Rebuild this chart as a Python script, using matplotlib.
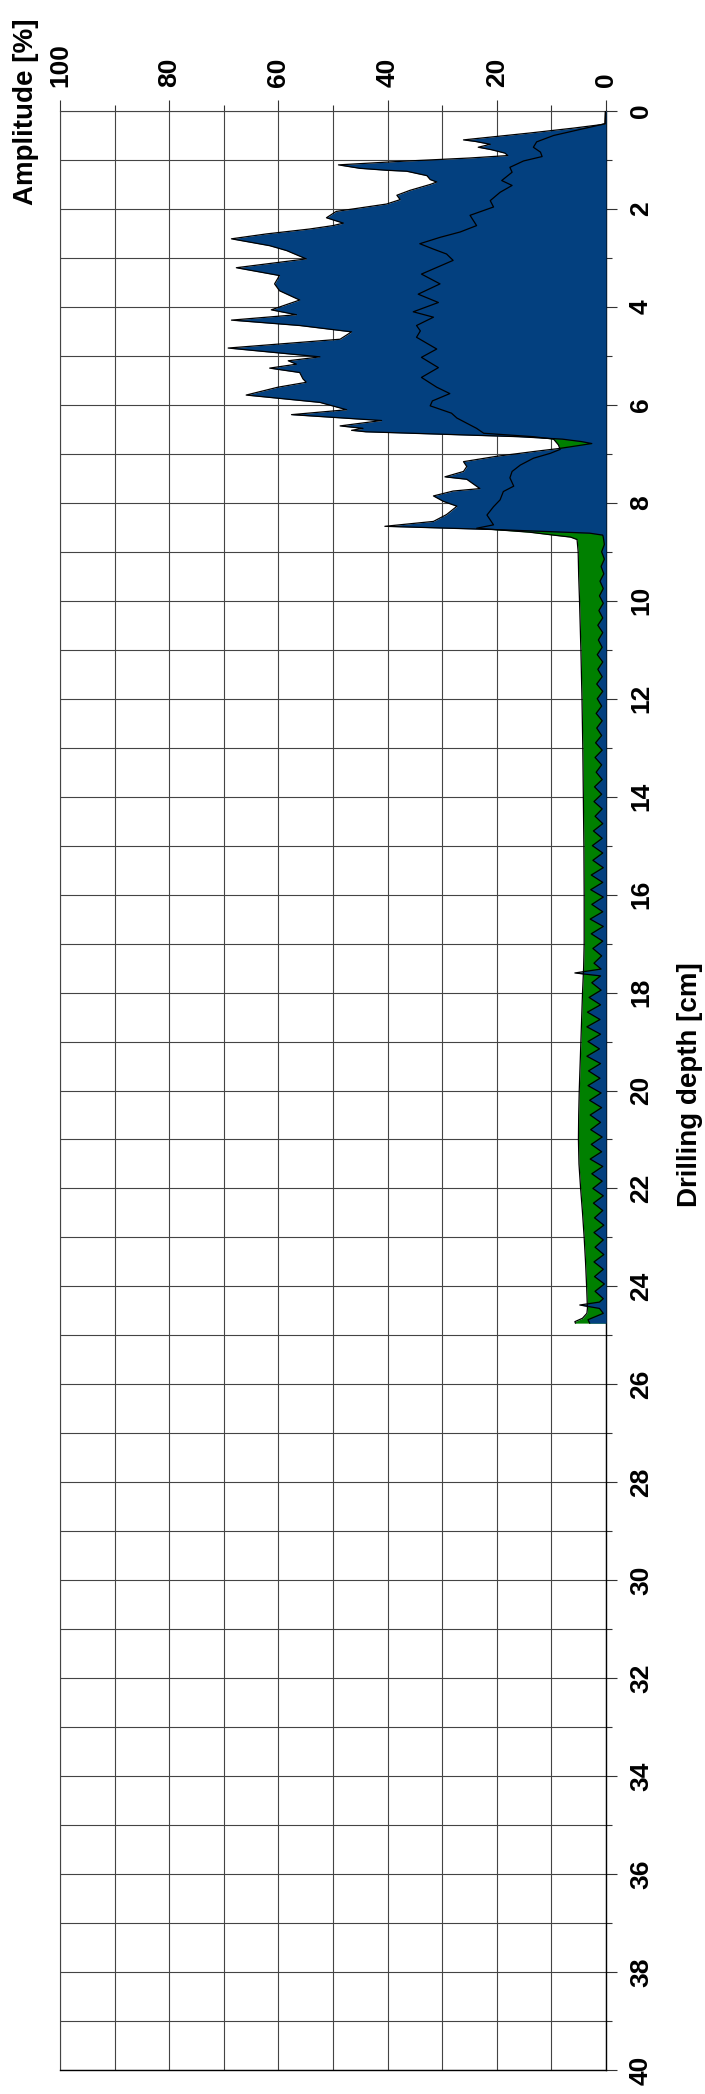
import matplotlib
matplotlib.use("Agg")
import matplotlib.pyplot as plt
from matplotlib.ticker import MultipleLocator, FixedLocator

plt.rcParams['font.family'] = ['Liberation Sans', 'DejaVu Sans']

# ---------------- data ----------------
# Drilling amplitude (blue area), depth in cm, amplitude in %
drill_depth = [0.00, 0.26, 0.28, 0.35, 0.45, 0.59, 0.62, 0.68, 0.74, 0.79, 0.86, 0.91, 0.96,
               1.03, 1.10, 1.17, 1.21, 1.23, 1.32, 1.40, 1.45, 1.50, 1.62, 1.72, 1.81, 1.90,
               1.98, 2.05, 2.18, 2.29, 2.34, 2.41, 2.51, 2.61, 2.75, 2.85, 3.02, 3.20, 3.36,
               3.53, 3.67, 3.86, 4.06, 4.16, 4.27, 4.38, 4.51, 4.66, 4.84, 5.02, 5.10, 5.17,
               5.25, 5.34, 5.47, 5.54, 5.64, 5.80, 5.95, 6.10, 6.20, 6.32, 6.43, 6.48, 6.52,
               6.55, 6.60, 6.65, 6.70, 6.75, 6.79, 6.84, 6.89, 6.95, 7.05, 7.16, 7.26, 7.36,
               7.47, 7.52, 7.71, 7.76, 7.86, 7.97, 8.07, 8.24, 8.38, 8.48, 8.55, 8.62, 8.66,
               8.70, 8.85, 9.00, 9.15, 9.30, 9.45, 9.60, 9.75, 9.90,
               10.05, 10.20, 10.35, 10.50, 10.65, 10.80, 10.95,
               11.10, 11.25, 11.40, 11.55, 11.70, 11.85,
               12.00, 12.15, 12.30, 12.45, 12.60, 12.75, 12.90,
               13.05, 13.20, 13.35, 13.50, 13.65, 13.80, 13.95,
               14.10, 14.25, 14.40, 14.55, 14.70, 14.85,
               15.00, 15.15, 15.30, 15.45, 15.60, 15.75, 15.90,
               16.05, 16.20, 16.35, 16.50, 16.65, 16.80, 16.95,
               17.10, 17.25, 17.40, 17.52, 17.60, 17.66,
               17.80, 17.95, 18.10, 18.25, 18.40, 18.55, 18.70, 18.85,
               19.00, 19.15, 19.30, 19.45, 19.60, 19.75, 19.90,
               20.05, 20.20, 20.35, 20.50, 20.65, 20.80, 20.95,
               21.10, 21.25, 21.40, 21.55, 21.70, 21.85,
               22.00, 22.15, 22.30, 22.45, 22.60, 22.75, 22.90,
               23.05, 23.20, 23.35, 23.50, 23.65, 23.80, 23.95,
               24.10, 24.25, 24.32, 24.38, 24.45, 24.55, 24.62, 24.68, 24.75]
drill_amp = [0.1, 0.2, 1.0, 6.0, 14.0, 26.1, 24.0, 21.2, 23.4, 21.0, 18.5, 18.0, 25.0,
             38.0, 49.0, 45.1, 40.2, 36.5, 32.8, 32.2, 31.0, 32.2, 35.9, 38.3, 37.7, 40.2,
             45.1, 49.4, 51.2, 48.1, 50.0, 54.3, 62.2, 68.6, 61.6, 58.5, 54.9, 67.7, 59.8,
             60.7, 59.8, 56.1, 61.3, 56.7, 68.6, 56.1, 46.6, 48.7, 69.2, 52.4, 58.2, 56.7,
             61.6, 56.1, 55.5, 54.9, 60.1, 65.9, 52.4, 47.5, 57.6, 41.1, 48.7, 44.5, 46.6,
             44.0, 30.0, 16.0, 8.0, 4.5, 2.6, 5.5, 8.5, 13.0, 20.0, 26.1, 25.5, 26.1,
             29.5, 25.5, 23.1, 28.0, 31.6, 29.8, 27.3, 29.2, 31.6, 40.5, 19.4, 3.0, 0.6,
             0.5, 0.3, 0.8, 0.3, 0.9, 0.4, 1.1, 0.5, 1.2,
             0.5, 1.3, 0.6, 1.5, 0.6, 1.4, 0.7,
             1.6, 0.6, 1.5, 0.7, 1.7, 0.6,
             1.6, 0.8, 1.8, 0.7, 1.7, 0.8, 1.9,
             0.7, 2.0, 0.8, 1.8, 0.7, 2.1, 0.8,
             2.2, 0.7, 2.0, 0.6, 2.3, 0.7,
             2.5, 0.6, 2.4, 0.5, 2.7, 0.6, 2.8,
             0.5, 2.6, 0.6, 2.9, 0.5, 2.7, 0.6,
             2.4, 0.8, 2.2, 0.9, 5.7, 1.0,
             2.6, 0.9, 3.1, 1.0, 3.4, 1.1, 3.5, 1.0,
             3.3, 1.2, 3.5, 1.0, 3.2, 1.1, 3.3,
             0.9, 3.0, 0.8, 2.9, 1.0, 2.8, 0.7,
             2.7, 0.8, 2.9, 0.6, 2.6, 0.7,
             2.4, 0.5, 2.3, 0.6, 2.1, 0.4, 2.2,
             0.5, 2.0, 0.4, 2.2, 0.5, 2.1, 0.3,
             2.0, 0.5, 1.2, 4.8, 1.2, 0.5, 2.0, 3.3, 3.0]

# Feed amplitude (green area)
feed_depth = [0.00, 0.26, 0.36, 0.50, 0.63, 0.74, 0.84, 0.93, 1.02, 1.15, 1.25, 1.42, 1.52,
              1.66, 1.83, 1.96, 2.13, 2.34, 2.47, 2.58, 2.71, 2.82, 2.92, 3.05, 3.33, 3.53,
              3.74, 3.91, 4.10, 4.21, 4.38, 4.49, 4.62, 4.86, 5.03, 5.24, 5.44, 5.64, 5.77,
              5.92, 6.02, 6.17, 6.27, 6.48, 6.58, 6.65, 6.70, 6.82, 6.91, 6.99, 7.09, 7.23,
              7.36, 7.49, 7.66, 7.77, 7.94, 8.08, 8.25, 8.45, 8.52, 8.60, 8.66, 8.70, 8.75,
              9.0, 9.5, 10.0, 11.0, 12.0, 13.0, 14.0, 15.0, 16.0, 17.0, 17.5, 18.0, 18.5,
              19.0, 19.5, 20.0, 20.5, 21.0, 21.5, 22.0, 22.5, 23.0, 23.5, 24.0, 24.3, 24.45,
              24.55, 24.65, 24.72, 24.75]
feed_amp = [0.1, 0.15, 4.1, 9.6, 12.7, 13.3, 12.0, 11.7, 15.1, 17.6, 17.2, 19.1, 17.2,
            19.4, 21.2, 20.6, 24.9, 23.7, 26.7, 30.4, 34.1, 31.6, 29.2, 28.0, 33.8, 30.4,
            34.4, 30.7, 35.3, 31.6, 34.7, 34.0, 34.7, 31.0, 33.8, 30.7, 33.8, 31.0, 28.6,
            31.8, 32.2, 28.3, 27.3, 23.7, 22.4, 13.3, 9.6, 8.7, 8.4, 10.2, 13.3, 15.7,
            17.2, 17.6, 16.9, 18.8, 19.4, 20.6, 21.8, 20.6, 23.7, 14.0, 9.6, 6.5, 5.3,
            5.1, 5.0, 4.85, 4.6, 4.4, 4.25, 4.15, 4.05, 4.0, 4.0, 4.1, 4.3, 4.45,
            4.6, 4.75, 4.9, 5.0, 5.05, 4.95, 4.65, 4.3, 4.0, 3.75, 3.55, 3.45, 3.4,
            3.5, 4.3, 5.7, 5.6]

amp_ticks = [0, 20, 40, 60, 80, 100]
depth_ticks = [0, 2, 4, 6, 8, 10, 12, 14, 16, 18, 20, 22, 24, 26, 28, 30, 32, 34, 36, 38, 40]

BLUE = '#03407F'
GREEN = '#008000'

# ---------------- figure ----------------
W, H = 705, 2094
fig = plt.figure(figsize=(W / 100, H / 100), dpi=100)
x0, x1, y0, y1 = 60, 606, 111, 2070
ax = fig.add_axes([x0 / W, 1 - y1 / H, (x1 - x0) / W, (y1 - y0) / H])

ax.fill_betweenx(feed_depth, 0, feed_amp, color=GREEN, lw=0, zorder=2)
ax.fill_betweenx(drill_depth, 0, drill_amp, color=BLUE, lw=0, zorder=3)
ax.plot(drill_amp, drill_depth, color='black', lw=0.9, zorder=4)
ax.plot(feed_amp, feed_depth, color='black', lw=0.9, zorder=4)

ax.set_xlim(100, 0)
ax.set_ylim(40, 0)

ax.xaxis.set_major_locator(FixedLocator(amp_ticks))
ax.xaxis.set_minor_locator(MultipleLocator(10))
ax.yaxis.set_major_locator(FixedLocator(depth_ticks))
ax.yaxis.set_minor_locator(MultipleLocator(1))
ax.set_xticklabels([str(v) for v in amp_ticks])
ax.set_yticklabels([str(v) for v in depth_ticks])

ax.xaxis.tick_top()
ax.yaxis.tick_right()
ax.tick_params(axis='x', which='major', length=8, width=0.8, pad=9, labelrotation=90,
               labelsize=19, color='#333333')
ax.tick_params(axis='x', which='minor', length=4.3, width=0.8, color='#333333')
ax.tick_params(axis='y', which='major', length=8, width=0.8, pad=8.5, labelrotation=90,
               labelsize=19, color='#333333')
ax.tick_params(axis='y', which='minor', length=4.3, width=0.8, color='#333333')
for lbl in ax.get_xticklabels() + ax.get_yticklabels():
    lbl.set_fontweight('bold')
for lbl in ax.get_yticklabels():
    lbl.set_va('center')

ax.grid(True, which='both', color='#444444', lw=0.8)
ax.set_axisbelow(True)
for side in ['left', 'top']:
    ax.spines[side].set_color('#444444')
    ax.spines[side].set_linewidth(0.8)
for side in ['right', 'bottom']:
    ax.spines[side].set_color('black')
    ax.spines[side].set_linewidth(1.0)

fig.text(26 / W, 1 - 112 / H, 'Amplitude [%]', rotation=90, ha='center', va='center',
         fontsize=20, fontweight='bold')
fig.text(690 / W, 1 - 1085 / H, 'Drilling depth [cm]', rotation=90, ha='center', va='center',
         fontsize=20, fontweight='bold')

fig.savefig('out.png', dpi=100, facecolor='white')
